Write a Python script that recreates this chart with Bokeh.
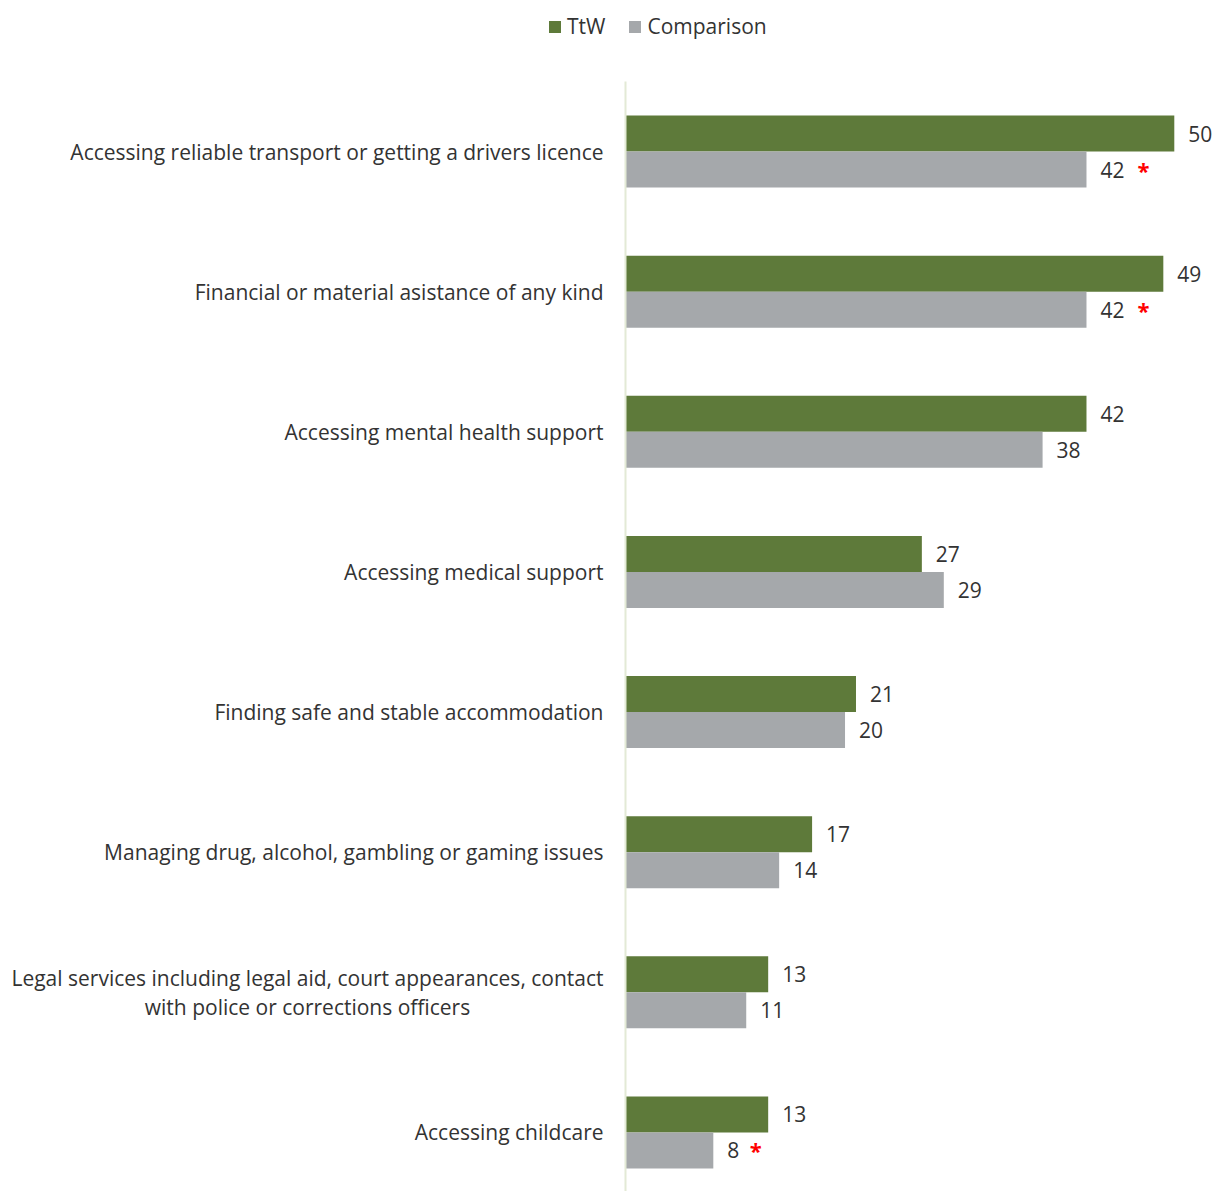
from bokeh.plotting import figure
from bokeh.models import Range1d, ColumnDataSource, Legend, LegendItem
from bokeh.core.properties import value
from bokeh.embed import file_html
from bokeh.resources import INLINE

# ---------------- data ----------------
categories = [
    "Accessing reliable transport or getting a drivers licence",
    "Financial or material asistance of any kind",
    "Accessing mental health support",
    "Accessing medical support",
    "Finding safe and stable accommodation",
    "Managing drug, alcohol, gambling or gaming issues",
    "Legal services including legal aid, court appearances, contact\nwith police or corrections officers",
    "Accessing childcare",
]
ttw = [50, 49, 42, 27, 21, 17, 13, 13]
comparison = [42, 42, 38, 29, 20, 14, 11, 8]
comparison_significant = [True, True, False, False, False, False, False, True]
series_names = ["TtW", "Comparison"]

# ---------------- layout constants ----------------
W, H = 1217, 1191
AXIS_PX = 625          # px from figure left where 0 % sits
SCALE = 10.976         # px per percentage point
ROW = 140.14           # px per category
ROW0 = 151             # px from top to first category centre
BAR_H = 36 / ROW       # bar thickness in data units

GREEN = "#5E7A3A"
GREY = "#A5A8AB"
TEXT = "#333333"
FONT = "Open Sans"
FS = "21px"

x_range = Range1d(-AXIS_PX / SCALE, (W - AXIS_PX) / SCALE)
y_range = Range1d(-(H - ROW0) / ROW, ROW0 / ROW)

p = figure(width=W, height=H, x_range=x_range, y_range=y_range,
           output_backend="svg", toolbar_location=None,
           x_axis_location=None, y_axis_location=None, min_border=0)
p.grid.visible = False
p.outline_line_color = None
p.background_fill_color = "white"

n = len(categories)
ypos = [-i for i in range(n)]
green_y = [y + BAR_H / 2 for y in ypos]
grey_y = [y - BAR_H / 2 for y in ypos]

src_g = ColumnDataSource(dict(y=green_y, v=ttw, t=[str(v) for v in ttw]))
src_c = ColumnDataSource(dict(y=grey_y, v=comparison, t=[str(v) for v in comparison]))

rg = p.hbar(y="y", right="v", left=0, height=BAR_H, source=src_g,
            fill_color=GREEN, line_color=None)
rc = p.hbar(y="y", right="v", left=0, height=BAR_H, source=src_c,
            fill_color=GREY, line_color=None)

# axis line
p.segment(x0=[0], y0=[0.5], x1=[0], y1=[y_range.start],
          line_color="#E3EAD6", line_width=2)

# value labels
for src in (src_g, src_c):
    p.text(x="v", y="y", text="t", source=src, x_offset=14,
           text_align="left", text_baseline="middle",
           text_font=value(FONT), text_font_size=FS, text_color=TEXT)

# significance asterisks
ax = [v for v, s in zip(comparison, comparison_significant) if s]
ay = [y for y, s in zip(grey_y, comparison_significant) if s]
aoff = [28 + 14.5 * len(str(v)) for v in ax]
p.text(x=ax, y=ay, text=["*"] * len(ax), x_offset=aoff,
       text_align="center", text_baseline="middle",
       text_font=value(FONT), text_font_size="22px", text_color="#FF0000",
       text_font_style="bold")

# category labels
single = [(c, y) for c, y in zip(categories, ypos) if "\n" not in c]
multi = [(c, y) for c, y in zip(categories, ypos) if "\n" in c]
p.text(x=[0] * len(single), y=[y for _, y in single], text=[c for c, _ in single],
       x_offset=-22, text_align="right", text_baseline="middle",
       text_font=value(FONT), text_font_size=FS, text_color=TEXT)
p.text(x=[0] * len(multi), y=[y for _, y in multi], text=[c for c, _ in multi],
       x_offset=-318, text_align="center", text_baseline="middle",
       text_line_height=1.05,
       text_font=value(FONT), text_font_size=FS, text_color=TEXT)

legend = Legend(items=[LegendItem(label=series_names[0], renderers=[rg]),
                       LegendItem(label=series_names[1], renderers=[rc])],
                orientation="horizontal", location=(547, 1151),
                glyph_width=15, glyph_height=15, label_standoff=5, spacing=22,
                padding=0, margin=0, border_line_color=None,
                background_fill_alpha=0,
                label_text_font=FONT, label_text_font_size=FS,
                label_text_color=TEXT)
p.add_layout(legend)

open("out.html", "w").write(file_html(p, INLINE))
